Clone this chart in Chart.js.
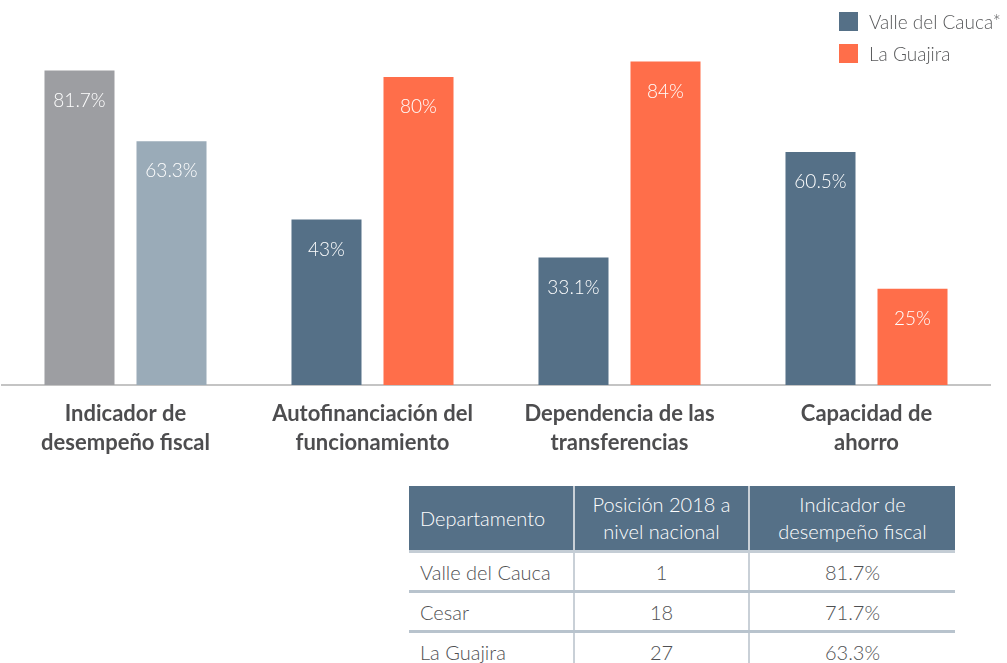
<!DOCTYPE html>
<html>
<head>
<meta charset="utf-8">
<script src="https://cdn.jsdelivr.net/npm/chart.js@4.4.1/dist/chart.umd.min.js"></script>
<style>
  body { margin: 0; background: #fff; font-family: Lato, "Open Sans", sans-serif; }
  #wrap { position: relative; width: 1007px; height: 663px; overflow: hidden; }
  #chartBox { position: absolute; left: 0; top: 0; width: 1007px; height: 463px; }
  #legend { position: absolute; left: 839px; top: 5px; }
  .item { display: flex; align-items: center; height: 32px; font-size: 19px; color: #58595b; font-weight: 300; }
  .swatch { width: 19px; height: 19px; margin-right: 11px; }
  table { position: absolute; left: 409px; top: 486px; width: 546px; border-collapse: collapse;
          font-size: 20px; color: #4f5052; font-weight: 300; table-layout: fixed; }
  th { background: #557087; color: #fff; font-weight: 300; height: 64px; line-height: 27px; padding: 0;
       border-left: 2px solid #c9d0d7; border-bottom: 3px solid #c4cdd5; }
  td { height: 37px; padding: 0; text-align: center; border-left: 2px solid #c9d0d7; border-bottom: 3px solid #b8c3cd; }
  th:first-child, td:first-child { border-left: none; text-align: left; padding-left: 11px; }
</style>
</head>
<body>
<div id="wrap">
  <div id="chartBox"><canvas id="c"></canvas></div>
  <div id="legend"></div>
  <table id="tbl"><colgroup><col style="width:165px"><col style="width:175px"><col style="width:206px"></colgroup></table>
</div>
<script>
const categories = [
  ['Indicador de', 'desempeño fiscal'],
  ['Autofinanciación del', 'funcionamiento'],
  ['Dependencia de las', 'transferencias'],
  ['Capacidad de', 'ahorro']
];
const seriesNames = ['Valle del Cauca*', 'La Guajira'];
const valleValues = [81.7, 43, 33.1, 60.5];
const guajiraValues = [63.3, 80, 84, 25];
const valleColors = ['#9d9ea2', '#557087', '#557087', '#557087'];
const guajiraColors = ['#9aabb8', '#ff6e4a', '#ff6e4a', '#ff6e4a'];
const legendColors = ['#557087', '#ff6e4a'];

const tableHeader = ['Departamento', 'Posición 2018 a<br>nivel nacional', 'Indicador de<br>desempeño fiscal'];
const tableRows = [
  ['Valle del Cauca', '1', '81.7%'],
  ['Cesar', '18', '71.7%'],
  ['La Guajira', '27', '63.3%']
];

// legend
const legend = document.getElementById('legend');
seriesNames.forEach((name, i) => {
  legend.innerHTML += '<div class="item"><span class="swatch" style="background:' + legendColors[i] + '"></span>' + name + '</div>';
});

// table
let html = '<tr>' + tableHeader.map(h => '<th>' + h + '</th>').join('') + '</tr>';
tableRows.forEach(r => { html += '<tr>' + r.map(c => '<td>' + c + '</td>').join('') + '</tr>'; });
document.getElementById('tbl').insertAdjacentHTML('beforeend', html);

const barLabels = {
  id: 'barLabels',
  afterDatasetsDraw(chart) {
    const ctx = chart.ctx;
    ctx.save();
    ctx.fillStyle = '#fff';
    ctx.font = '300 19px Lato';
    ctx.textAlign = 'center';
    ctx.textBaseline = 'middle';
    chart.data.datasets.forEach((ds, i) => {
      chart.getDatasetMeta(i).data.forEach((bar, j) => {
        ctx.fillText(ds.data[j] + '%', bar.x, bar.y + 30);
      });
    });
    ctx.restore();
  }
};

new Chart(document.getElementById('c'), {
  type: 'bar',
  data: {
    labels: categories,
    datasets: [
      { label: seriesNames[0], data: valleValues, backgroundColor: valleColors },
      { label: seriesNames[1], data: guajiraValues, backgroundColor: guajiraColors }
    ]
  },
  options: {
    responsive: true,
    maintainAspectRatio: false,
    animation: false,
    layout: { padding: { left: 2, right: 17, top: 0, bottom: 0 } },
    categoryPercentage: 0.745,
    barPercentage: 0.761,
    plugins: { legend: { display: false }, tooltip: { enabled: false } },
    scales: {
      x: {
        grid: { display: false },
        border: { display: true, color: '#c4c4c4', width: 2 },
        ticks: { color: '#4d4d4f', padding: 6, font: { family: 'Lato', size: 22, weight: 'bold', lineHeight: 1.32 } }
      },
      y: { display: false, min: 0, max: 100 }
    }
  },
  plugins: [barLabels]
});
</script>
</body>
</html>
